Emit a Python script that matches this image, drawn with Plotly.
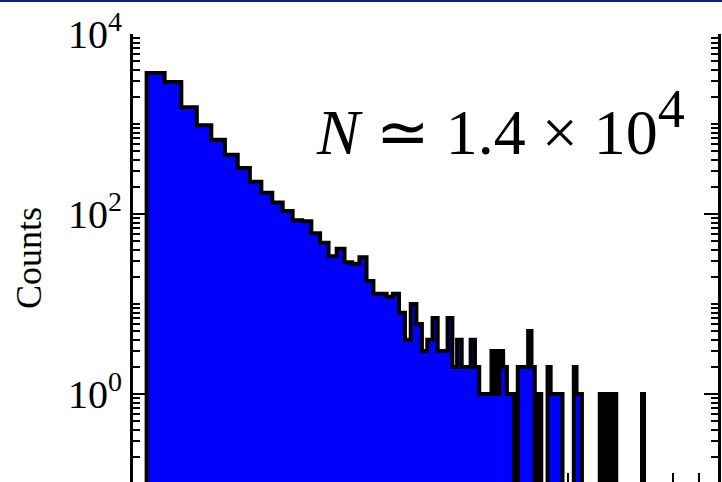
import numpy as np
import plotly.graph_objects as go

# Histogram binning (linear bins drawn on a log x axis)
bin_start = 0.752
bin_width = 0.0634

# Counts per bin
counts = [
    3690, 2930, 1530, 967, 670, 456, 324, 228, 172, 134,
    108, 85, 83, 61, 48, 34, 41, 29, 28, 33,
    18, 13, 13, 12, 13, 8, 4, 10, 6, 3,
    4, 7, 3, 3, 7, 2, 4, 2, 2, 4,
    2, 1, 1, 1, 3, 1, 3, 2, 1, 1,
    0, 2, 2, 2, 5, 2, 0, 1, 0, 0,
    2, 1, 1, 1, 1, 0, 0, 0, 0, 2,
    1, 1, 0, 0, 0, 0, 0, 0, 0, 1,
    0, 1, 0, 1, 0, 1, 0, 0, 0, 0,
    0, 0, 0, 0, 0, 0, 0, 0, 1,
]

# Axis ticks
y_major = [1, 100, 10000]
y_major_text = ["10<sup>0</sup>", "10<sup>2</sup>", "10<sup>4</sup>"]
y_minor = [m * 10.0 ** e for e in range(-1, 4) for m in range(1, 10)
           if m * 10.0 ** e not in y_major]
x_major = [1]
x_minor = [0.7, 0.8, 0.9, 2, 3, 4, 5, 6, 7, 8, 9]

annotation_text = ("<i>N</i> ≃ 1.4 × 10"
                   "<sup><span style='font-size:54px'>4</span></sup>")

# Step outline: empty bins drop below the visible log range
floor = 1e-2
c = np.asarray(counts, dtype=float)
edges = bin_start + bin_width * np.arange(len(c) + 1)
yc = np.where(c > 0, c, floor)
xs = np.concatenate([[edges[0]], edges[:-1], [edges[-1], edges[-1]]])
ys = np.concatenate([[floor], yc, [yc[-1], floor]])

fig = go.Figure()
fig.add_trace(go.Scatter(
    x=xs, y=ys, mode="lines",
    line=dict(color="black", width=4, shape="hv"),
    fill="toself", fillcolor="#0000FF",
    hoverinfo="skip", showlegend=False,
))

serif = "Liberation Serif, Times New Roman, Times, serif"

fig.update_layout(
    width=722, height=482,
    margin=dict(l=133, r=4, t=34, b=0),
    paper_bgcolor="white", plot_bgcolor="white",
    font=dict(family=serif, color="black"),
    xaxis=dict(
        type="log", range=[-0.1504, 0.9912], layer="below traces",
        showline=False, showgrid=False, zeroline=False,
        ticks="inside", tickvals=x_major, ticklen=14, tickwidth=2,
        tickcolor="black", showticklabels=False,
        minor=dict(tickvals=x_minor, ticks="inside", ticklen=9,
                   tickwidth=2, tickcolor="black", showgrid=False),
    ),
    xaxis2=dict(
        type="log", overlaying="x", matches="x", side="top", anchor="y",
        showline=True, linewidth=3, linecolor="black",
        showgrid=False, zeroline=False,
        ticks="inside", tickvals=x_major, ticklen=13, tickwidth=2,
        tickcolor="black", showticklabels=False,
        minor=dict(tickvals=x_minor, ticks="inside", ticklen=7,
                   tickwidth=2, tickcolor="black", showgrid=False),
    ),
    yaxis=dict(
        type="log", range=[-0.978, 4.0],
        showline=True, linewidth=3, linecolor="black", mirror="allticks",
        showgrid=False, zeroline=False,
        ticks="inside", tickvals=y_major, ticktext=y_major_text,
        ticklen=14, tickwidth=2, tickcolor="black",
        tickfont=dict(family=serif, size=40, color="black"),
        minor=dict(tickvals=y_minor, ticks="inside", ticklen=7,
                   tickwidth=2, tickcolor="black", showgrid=False),
        title=dict(text="Counts", font=dict(family=serif, size=36, color="black"),
                   standoff=16),
    ),
    annotations=[dict(
        text=annotation_text, xref="paper", yref="paper",
        x=(314 - 133) / 585, y=1 - (123 - 34) / 448,
        xanchor="left", yanchor="middle", showarrow=False,
        font=dict(family=serif, size=64, color="black"),
    )],
    shapes=[dict(
        type="line", xref="paper", yref="paper",
        x0=-0.3, x1=1.1, y0=1 + 33 / 448, y1=1 + 33 / 448,
        line=dict(color="#0a1e8c", width=2),
    )],
)

fig.write_html("out.html")
